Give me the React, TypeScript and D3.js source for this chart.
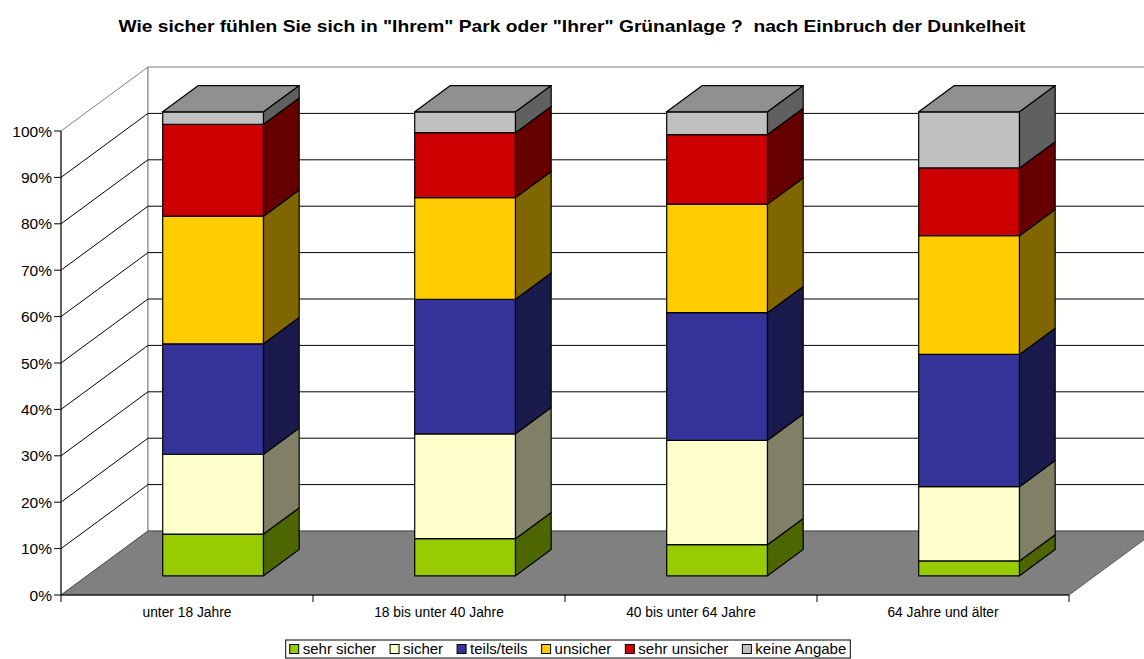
import React, { useEffect, useRef } from "react";
import * as d3 from "d3";

const title = 'Wie sicher fühlen Sie sich in "Ihrem" Park oder "Ihrer" Grünanlage ?  nach Einbruch der Dunkelheit';
const categories = ["unter 18 Jahre", "18 bis unter 40 Jahre", "40 bis unter 64 Jahre", "64 Jahre und älter"];
const seriesNames = ["sehr sicher", "sicher", "teils/teils", "unsicher", "sehr unsicher", "keine Angabe"];
const sehrSicher = [9.0, 8.0, 6.7, 3.2];
const sicher = [17.2, 22.6, 22.5, 16.0];
const teilsTeils = [23.8, 29.0, 27.5, 28.5];
const unsicher = [27.5, 21.9, 23.4, 25.6];
const sehrUnsicher = [19.8, 14.0, 15.0, 14.6];
const keineAngabe = [2.7, 4.5, 4.9, 12.1];
const yTicks = [0, 0.1, 0.2, 0.3, 0.4, 0.5, 0.6, 0.7, 0.8, 0.9, 1];

const frontColors = ["#99CC00", "#FFFFCC", "#333399", "#FFCC00", "#CC0000", "#C0C0C0"];
const sideColors = ["#4D6600", "#808066", "#1A1A4D", "#806600", "#660000", "#606060"];
const topColor = "#909090";

const W = 1144;
const H = 659;
const FONT = "Arial, 'Liberation Sans', sans-serif";

export default function App() {
  const ref = useRef<SVGSVGElement | null>(null);

  useEffect(() => {
    const svg = d3.select(ref.current);
    svg.selectAll("*").remove();

    const allSeries = [sehrSicher, sicher, teilsTeils, unsicher, sehrUnsicher, keineAngabe];
    const table = categories.map((c, i) => {
      const row: any = { cat: c };
      seriesNames.forEach((s, j) => (row[s] = allSeries[j][i]));
      return row;
    });
    const stacked = d3.stack<any>().keys(seriesNames).offset(d3.stackOffsetExpand)(table);

    const x0 = 61, x1 = 1069;
    const y = d3.scaleLinear().domain([0, 1]).range([595, 131]);
    const xb = d3.scaleBand<string>().domain(categories).range([x0, x1]).padding(0);
    const DX = 87, DY = -64;
    const dFront = 0.3, dBack = 0.71;
    const proj = (x: number, v: number, d: number): [number, number] => [x + d * DX, y(v) + d * DY];
    const poly = (pts: [number, number][]) => "M" + pts.map((p) => p.join(",")).join("L") + "Z";
    const line = (pts: [number, number][]) => "M" + pts.map((p) => p.join(",")).join("L");

    // walls
    svg.append("path")
      .attr("d", poly([proj(x0, 1, 0), proj(x0, 1, 1), proj(x0, 0, 1), proj(x0, 0, 0)]))
      .attr("fill", "#fff").attr("stroke", "#808080").attr("stroke-width", 1);
    svg.append("path")
      .attr("d", poly([proj(x0, 0, 1), proj(x1, 0, 1), proj(x1, 1, 1), proj(x0, 1, 1)]))
      .attr("fill", "#fff").attr("stroke", "#808080").attr("stroke-width", 1);

    // gridlines
    yTicks.filter((v) => v > 0 && v < 1).forEach((v) => {
      svg.append("path")
        .attr("d", line([proj(x0, v, 0), proj(x0, v, 1), proj(x1, v, 1)]))
        .attr("fill", "none").attr("stroke", "#000").attr("stroke-width", 1);
    });

    // floor
    svg.append("path")
      .attr("d", poly([proj(x0, 0, 0), proj(x1, 0, 0), proj(x1, 0, 1), proj(x0, 0, 1)]))
      .attr("fill", "#808080").attr("stroke", "#404040").attr("stroke-width", 0.8);

    // bars
    const bw = xb.bandwidth() * 0.4;
    categories.forEach((c, i) => {
      const xl = (xb(c) as number) + (xb.bandwidth() - bw) / 2;
      const xr = xl + bw;
      const g = svg.append("g");
      stacked.forEach((s, j) => {
        const v0 = s[i][0], v1 = s[i][1];
        g.append("path")
          .attr("d", poly([proj(xl, v0, dFront), proj(xr, v0, dFront), proj(xr, v1, dFront), proj(xl, v1, dFront)]))
          .attr("fill", frontColors[j]).attr("stroke", "#000").attr("stroke-width", 1.2).attr("stroke-linejoin", "round");
        g.append("path")
          .attr("d", poly([proj(xr, v0, dFront), proj(xr, v0, dBack), proj(xr, v1, dBack), proj(xr, v1, dFront)]))
          .attr("fill", sideColors[j]).attr("stroke", "#000").attr("stroke-width", 1.2).attr("stroke-linejoin", "round");
      });
      g.append("path")
        .attr("d", poly([proj(xl, 1, dFront), proj(xr, 1, dFront), proj(xr, 1, dBack), proj(xl, 1, dBack)]))
        .attr("fill", topColor).attr("stroke", "#000").attr("stroke-width", 1.2).attr("stroke-linejoin", "round");
    });

    // y axis
    svg.append("line").attr("x1", x0).attr("x2", x0).attr("y1", y(1)).attr("y2", y(0))
      .attr("stroke", "#000").attr("stroke-width", 1);
    yTicks.forEach((v) => {
      svg.append("line").attr("x1", x0 - 7).attr("x2", x0).attr("y1", y(v)).attr("y2", y(v))
        .attr("stroke", "#000").attr("stroke-width", 1);
      svg.append("text").attr("x", x0 - 9).attr("y", y(v)).attr("dy", "0.36em")
        .attr("text-anchor", "end").attr("font-family", FONT).attr("font-size", 15.5)
        .attr("fill", "#000").text(d3.format(".0%")(v));
    });

    // x axis
    svg.append("line").attr("x1", x0).attr("x2", x1).attr("y1", y(0)).attr("y2", y(0))
      .attr("stroke", "#000").attr("stroke-width", 1);
    const bounds = categories.map((c) => xb(c) as number).concat([x1]);
    bounds.forEach((bx) => {
      svg.append("line").attr("x1", bx).attr("x2", bx).attr("y1", y(0)).attr("y2", y(0) + 7)
        .attr("stroke", "#000").attr("stroke-width", 1);
    });
    categories.forEach((c) => {
      svg.append("text").attr("x", (xb(c) as number) + xb.bandwidth() / 2).attr("y", 617)
        .attr("text-anchor", "middle").attr("font-family", FONT).attr("font-size", 13.8)
        .attr("fill", "#000").text(c);
    });

    // title
    svg.append("text").attr("x", 572).attr("y", 32).attr("text-anchor", "middle")
      .attr("font-family", FONT).attr("font-size", 17).attr("font-weight", "bold")
      .attr("textLength", 907).attr("lengthAdjust", "spacingAndGlyphs")
      .style("white-space", "pre").attr("fill", "#000").text(title);

    // legend
    const lg = svg.append("g");
    const ms = 9, gapM = 4, gapI = 14, pad = 4;
    const items: { x: number; w: number }[] = [];
    let cx = 0;
    seriesNames.forEach((s) => {
      const t = lg.append("text").attr("y", 654).attr("font-family", FONT).attr("font-size", 15)
        .attr("fill", "#000").text(s);
      const w = (t.node() as SVGTextElement).getComputedTextLength();
      items.push({ x: cx, w });
      t.attr("data-off", cx + ms + gapM);
      cx += ms + gapM + w + gapI;
    });
    const total = cx - gapI;
    const lx = 568 - total / 2;
    lg.insert("rect", ":first-child").attr("x", lx - pad).attr("y", 640).attr("width", total + pad * 2)
      .attr("height", 18).attr("fill", "#fff").attr("stroke", "#000").attr("stroke-width", 1);
    lg.selectAll<SVGTextElement, unknown>("text").each(function () {
      const el = d3.select(this);
      el.attr("x", lx + +el.attr("data-off"));
    });
    seriesNames.forEach((s, j) => {
      lg.append("rect").attr("x", lx + items[j].x).attr("y", 644.5).attr("width", ms).attr("height", ms)
        .attr("fill", frontColors[j]).attr("stroke", "#000").attr("stroke-width", 1);
    });
  }, []);

  return (
    <svg
      ref={ref}
      width={W}
      height={H}
      style={{ position: "absolute", left: 0, top: 0, background: "#fff" }}
    />
  );
}
